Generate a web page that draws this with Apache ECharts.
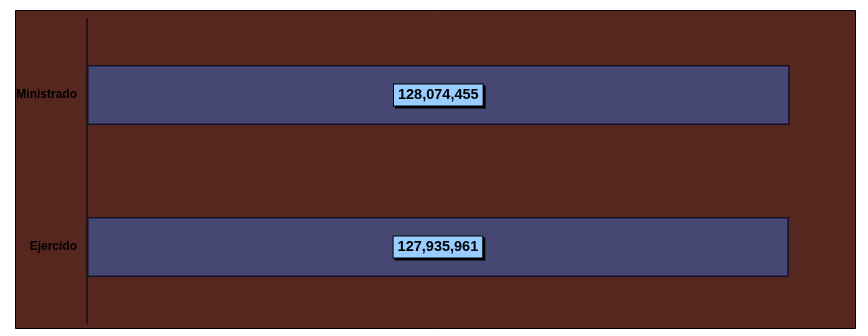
<!DOCTYPE html>
<html><head><meta charset="utf-8">
<script src="https://cdn.jsdelivr.net/npm/echarts@6/dist/echarts.min.js"></script>
<style>html,body{margin:0;padding:0;background:#fff}#c{width:868px;height:336px}</style>
</head><body><div id="c"></div>
<script>
const categories = ['Ejercido', 'Ministrado'];
const values = [127935961, 128074455];
const axisMax = 140000000;

const chart = echarts.init(document.getElementById('c'), null, {renderer: 'canvas'});
chart.setOption({
  animation: false,
  backgroundColor: '#ffffff',
  graphic: [{
    type: 'rect', z: -10, silent: true,
    shape: {x: 15.5, y: 10.5, width: 840, height: 318},
    style: {fill: '#56271E', stroke: '#000', lineWidth: 1}
  }],
  grid: {left: 87, right: 13, top: 19, bottom: 13},
  xAxis: {
    type: 'value', min: 0, max: axisMax, show: false,
    splitLine: {show: false}
  },
  yAxis: {
    type: 'category', data: categories,
    axisLine: {show: true, lineStyle: {color: '#1a0a08', width: 1.5}},
    axisTick: {show: false},
    axisLabel: {color: '#000', fontWeight: 'bold', fontSize: 12, fontFamily: 'Liberation Sans, Arial', margin: 10}
  },
  series: [{
    type: 'bar', data: values, barWidth: 60,
    itemStyle: {color: '#474773', borderColor: '#12122a', borderWidth: 1.5},
    label: {
      show: true, position: 'inside',
      formatter: p => p.value.toLocaleString('en-US'),
      color: '#000', fontWeight: 'bold', fontSize: 14.5, fontFamily: 'Liberation Sans, Arial',
      backgroundColor: '#99CCFF', borderColor: '#000', borderWidth: 1,
      padding: [4, 4, 2, 4],
      shadowColor: '#000', shadowBlur: 0, shadowOffsetX: 2, shadowOffsetY: 2
    }
  }]
});
</script></body></html>
